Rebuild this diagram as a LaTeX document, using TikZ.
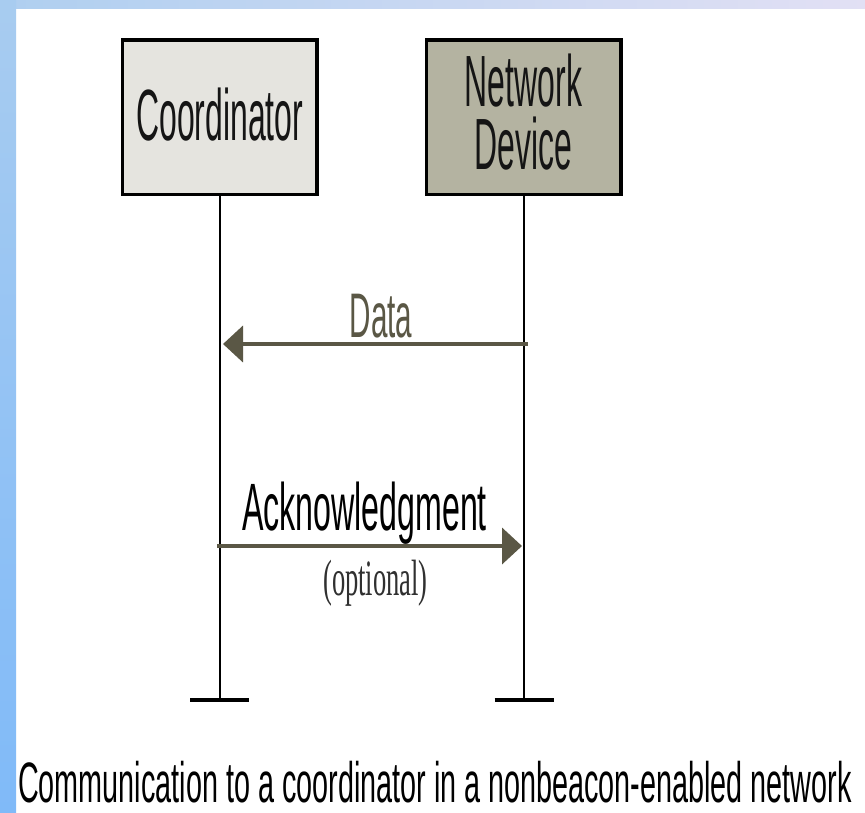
\documentclass[tikz,border=0pt]{standalone}
\usepackage{fontspec}
\setmainfont{Liberation Sans}
\newfontfamily\serifnarrow{Liberation Serif}
\usetikzlibrary{arrows.meta}
\definecolor{topL}{HTML}{AFCFF0}
\definecolor{topR}{HTML}{E2E0F4}
\definecolor{sideT}{HTML}{A8CCF0}
\definecolor{sideB}{HTML}{80BAF8}
\definecolor{coordfill}{HTML}{E5E4DF}
\definecolor{devfill}{HTML}{B4B3A1}
\definecolor{arrowc}{HTML}{5A5745}
\definecolor{txt}{HTML}{151515}
\definecolor{opt}{HTML}{303030}
\begin{document}
\begin{tikzpicture}[x=1pt,y=-1pt,
  box/.style={draw=black, line width=3.5pt, minimum width=194.5pt, minimum height=154.5pt, inner sep=0pt,
              text=txt, align=center, font=\fontsize{72.6}{63}\selectfont},
  lifeline/.style={line width=2pt, draw=black},
  endbar/.style={line width=4pt, draw=black},
  msg/.style={line width=4pt, draw=arrowc, -{Triangle[length=20pt,width=36pt]}},
  lbl/.style={inner sep=0pt, anchor=base, text=txt}]

\useasboundingbox (0,0) rectangle (865,812);
\fill[white] (0,0) rectangle (865,812);
\shade[left color=topL, right color=topR] (0,0) rectangle (865,8);
\shade[top color=sideT, bottom color=sideB] (0,0) rectangle (16,812);

% participant boxes with their names
\node[box, fill=coordfill] (coord) at (219.7,117)
  {\scalebox{0.44}[1]{Coordinator}\rule[-5pt]{0pt}{0pt}};
\node[box, fill=devfill] (dev) at (523.5,117)
  {\scalebox{0.44}[1]{Network}\\\scalebox{0.44}[1]{Device}\rule[-10pt]{0pt}{0pt}};

% lifelines
\coordinate (coordend) at (219.7,700);
\coordinate (devend) at (523.5,700);
\draw[lifeline] (coord.south) -- (coordend);
\draw[lifeline] (dev.south) -- (devend);
\draw[endbar] ([xshift=-29.5pt]coordend) -- ([xshift=29pt]coordend);
\draw[endbar] ([xshift=-29pt]devend) -- ([xshift=30.5pt]devend);

% messages
\coordinate (dstart) at (528,344);
\coordinate (dend) at (223,344);
\draw[msg] (dstart) -- (dend);
\node[lbl, text=arrowc] (datalbl) at (381,337) {\scalebox{0.47}[1]{\fontsize{63}{63}\selectfont Data}};

\coordinate (astart) at (217,546);
\coordinate (aend) at (522,546);
\draw[msg] (astart) -- (aend);
\node[lbl, text=black] (acklbl) at (364.5,530) {\scalebox{0.48}[1]{\fontsize{67}{67}\selectfont Acknowledgment}};
\node[lbl, text=opt] (optlbl) at (375.5,595) {\scalebox{0.52}[1]{\serifnarrow\fontsize{51}{51}\selectfont (optional)}};

% caption
\node[lbl, anchor=base west, text=black] (caption) at (18,802) {\scalebox{0.505}[1]{\fontsize{57}{57}\selectfont Communication to a coordinator in a nonbeacon-enabled network}};
\end{tikzpicture}
\end{document}
